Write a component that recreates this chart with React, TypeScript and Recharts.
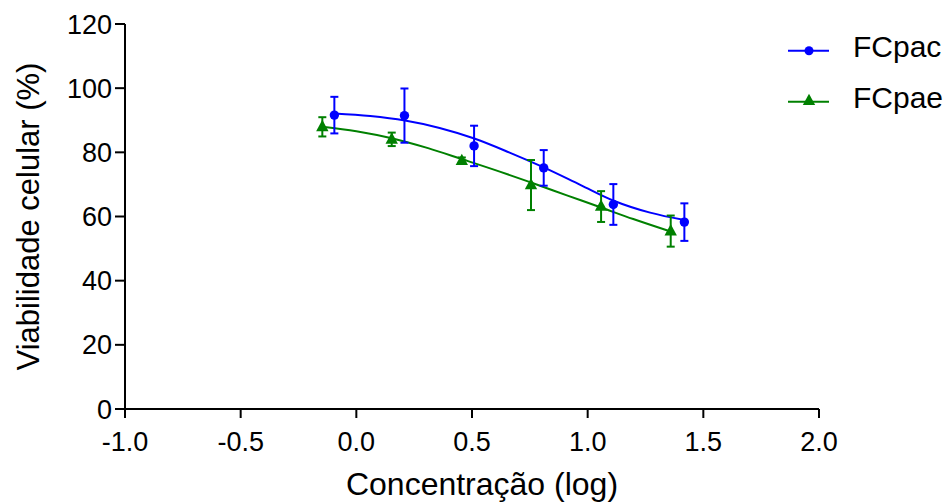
import {
  ComposedChart,
  Line,
  Scatter,
  ErrorBar,
  XAxis,
  YAxis,
  Legend,
} from "recharts";

// mean +/- SD
const pacX = [-0.095, 0.208, 0.509, 0.81, 1.111, 1.418];
const pacY = [91.6, 91.45, 82.0, 75.15, 63.75, 58.25];
const pacSd = [5.7, 8.45, 6.3, 5.55, 6.35, 5.85];

const paeX = [-0.147, 0.153, 0.456, 0.755, 1.058, 1.359];
const paeY = [87.95, 84.05, 77.4, 69.8, 63.1, 55.45];
const paeSd = [3.0, 2.1, 1.0, 7.8, 4.8, 4.85];

// fitted curves
const pacFitX = [-0.095, 0.06, 0.21, 0.36, 0.51, 0.66, 0.81, 0.97, 1.11, 1.27, 1.418];
const pacFitY = [92.1, 91.3, 89.9, 87.6, 84.3, 80.0, 75.3, 69.8, 65.0, 61.2, 58.9];

const paeFitX = [-0.147, 0.0, 0.153, 0.31, 0.456, 0.62, 0.755, 0.91, 1.058, 1.197, 1.359];
const paeFitY = [88.0, 86.6, 84.4, 81.3, 77.9, 74.0, 70.6, 66.6, 62.8, 59.2, 55.3];

const xTicks = [-1, -0.5, 0, 0.5, 1, 1.5, 2];
const yTicks = [0, 20, 40, 60, 80, 100, 120];

const legendItems = [
  { name: "FCpac", color: "#0000ff", shape: "circle" },
  { name: "FCpae", color: "#008000", shape: "triangle" },
];

const FONT = "'Liberation Sans', Arial, sans-serif";

const toPoints = (xs: number[], ys: number[], sd?: number[]) =>
  xs.map((x, i) => ({ x, y: ys[i], sd: sd ? sd[i] : 0 }));

const pacPoints = toPoints(pacX, pacY, pacSd);
const paePoints = toPoints(paeX, paeY, paeSd);
const pacFit = toPoints(pacFitX, pacFitY);
const paeFit = toPoints(paeFitX, paeFitY);

const trianglePath = (cx: number, cy: number) =>
  `M${cx},${cy - 7} L${cx + 6.2},${cy + 4.3} L${cx - 6.2},${cy + 4.3} Z`;

const CircleDot = (props: any) => (
  <circle cx={props.cx} cy={props.cy} r={4.7} fill="#0000ff" />
);

const TriangleDot = (props: any) => (
  <path d={trianglePath(props.cx, props.cy)} fill="#008000" />
);

function LegendBox() {
  return (
    <svg width={166} height={130} style={{ display: "block" }}>
      {legendItems.map((item, i) => {
        const cy = 50.7 + i * 51;
        return (
          <g key={item.name}>
            <line x1={3} x2={44} y1={cy} y2={cy} stroke={item.color} strokeWidth={2} />
            {item.shape === "circle" ? (
              <circle cx={24} cy={cy} r={4.5} fill={item.color} />
            ) : (
              <path d={trianglePath(24, cy - 1)} fill={item.color} />
            )}
            <text x={68} y={cy + 6.5} fontSize={30} fontFamily={FONT} fill="#000">
              {item.name}
            </text>
          </g>
        );
      })}
    </svg>
  );
}

export default function App() {
  return (
    <div style={{ position: "absolute", left: 0, top: 0, width: 951, height: 504 }}>
      <ComposedChart
        width={951}
        height={504}
        margin={{ top: 24, right: 132, bottom: 0, left: 0 }}
        style={{ fontFamily: FONT }}
      >
        <XAxis
          type="number"
          dataKey="x"
          domain={[-1, 2]}
          ticks={xTicks}
          allowDataOverflow
          tickFormatter={(v: number) => v.toFixed(1)}
          height={95}
          tickSize={9}
          tickMargin={14}
          stroke="#000"
          strokeWidth={2}
          tick={{ fill: "#000", fontSize: 27 }}
          label={{
            value: "Concentração (log)",
            position: "insideBottom",
            offset: 9,
            dx: 10,
            fontSize: 32,
            fill: "#000",
          }}
        />
        <YAxis
          type="number"
          dataKey="y"
          domain={[0, 120]}
          ticks={yTicks}
          allowDataOverflow
          width={125}
          tickSize={10}
          tickMargin={3}
          stroke="#000"
          strokeWidth={2}
          tick={{ fill: "#000", fontSize: 27 }}
          label={{
            value: "Viabilidade celular (%)",
            angle: -90,
            position: "insideLeft",
            textAnchor: "middle",
            offset: 28,
            fontSize: 31,
            fill: "#000",
          }}
        />
        <Legend
          layout="vertical"
          align="center"
          verticalAlign="middle"
          wrapperStyle={{ left: 785, top: 0, width: 166 }}
          content={() => <LegendBox />}
        />
        <Line
          data={pacFit}
          dataKey="y"
          type="monotone"
          stroke="#0000ff"
          strokeWidth={2}
          dot={false}
          activeDot={false}
          isAnimationActive={false}
        />
        <Line
          data={paeFit}
          dataKey="y"
          type="monotone"
          stroke="#008000"
          strokeWidth={2}
          dot={false}
          activeDot={false}
          isAnimationActive={false}
        />
        <Scatter
          data={pacPoints}
          dataKey="y"
          fill="#0000ff"
          shape={CircleDot}
          isAnimationActive={false}
        >
          <ErrorBar
            dataKey="sd"
            direction="y"
            width={4}
            stroke="#0000ff"
            strokeWidth={2}
            isAnimationActive={false}
          />
        </Scatter>
        <Scatter
          data={paePoints}
          dataKey="y"
          fill="#008000"
          shape={TriangleDot}
          isAnimationActive={false}
        >
          <ErrorBar
            dataKey="sd"
            direction="y"
            width={4}
            stroke="#008000"
            strokeWidth={2}
            isAnimationActive={false}
          />
        </Scatter>
      </ComposedChart>
    </div>
  );
}
